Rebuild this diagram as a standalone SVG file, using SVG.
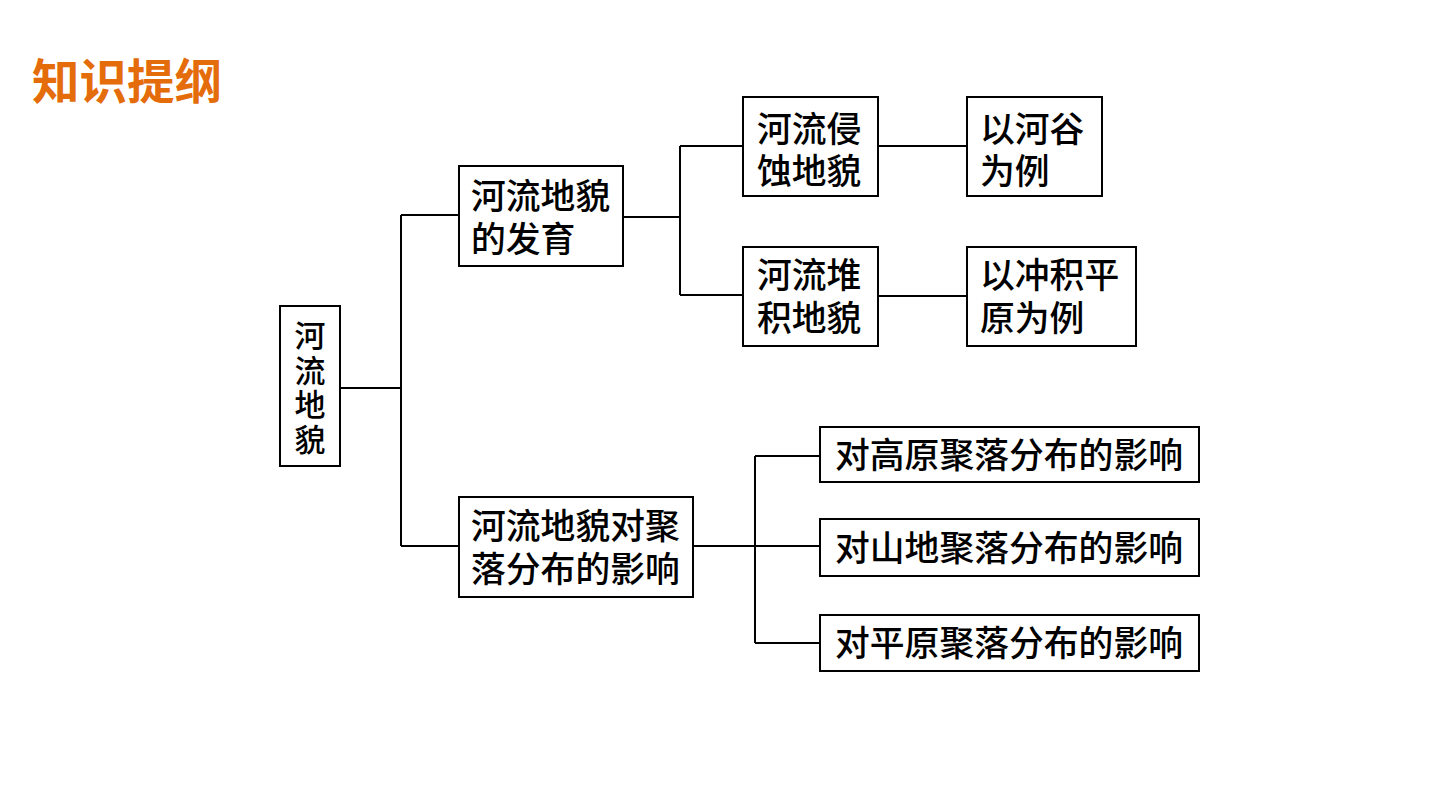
<svg xmlns="http://www.w3.org/2000/svg" width="1440" height="810" viewBox="0 0 1440 810">
<style>
.box{fill:#fff;stroke:#000;stroke-width:2}
.t{font-family:"Noto Sans CJK SC","Noto Sans",sans-serif;font-size:34.8px;font-weight:500;fill:#000}
.v{font-family:"Noto Sans CJK SC","Noto Sans",sans-serif;font-size:31px;font-weight:500;fill:#000}
.c{fill:none;stroke:#000;stroke-width:2}
.title{font-family:"Noto Sans CJK SC","Noto Sans",sans-serif;font-size:47.5px;font-weight:700;fill:#E46C0A}
</style>
<rect width="1440" height="810" fill="#fff"/>
<text class="title" x="32" y="99">知识提纲</text>
<g id="connectors">
<path class="c" d="M340 388H401M401 215V546M401 215H459M401 546H459"/>
<path class="c" d="M623 217H680M680 146V295M680 146H743M680 295H743"/>
<path class="c" d="M878 146H967M878 296H967"/>
<path class="c" d="M693 546H820M755 456V643M755 456H820M755 643H820"/>
</g>
<g id="root">
<rect class="box" x="280" y="306" width="60" height="160"/>
<text class="v" x="310" y="320" writing-mode="tb" letter-spacing="3.5">河流地貌</text>
</g>
<g id="dev">
<rect class="box" x="459" y="166" width="164" height="100"/>
<text class="t"><tspan x="471" y="209">河流地貌</tspan><tspan x="471" y="252">的发育</tspan></text>
</g>
<g id="erosion">
<rect class="box" x="743" y="97" width="135" height="99"/>
<text class="t"><tspan x="757" y="142">河流侵</tspan><tspan x="757" y="184">蚀地貌</tspan></text>
</g>
<g id="valley">
<rect class="box" x="967" y="97" width="135" height="99"/>
<text class="t"><tspan x="980" y="142">以河谷</tspan><tspan x="980" y="184">为例</tspan></text>
</g>
<g id="deposit">
<rect class="box" x="743" y="247" width="135" height="99"/>
<text class="t"><tspan x="757" y="288">河流堆</tspan><tspan x="757" y="331">积地貌</tspan></text>
</g>
<g id="plain">
<rect class="box" x="967" y="247" width="169" height="99"/>
<text class="t"><tspan x="980" y="288">以冲积平</tspan><tspan x="980" y="331">原为例</tspan></text>
</g>
<g id="settle">
<rect class="box" x="459" y="497" width="234" height="100"/>
<text class="t"><tspan x="471" y="539">河流地貌对聚</tspan><tspan x="471" y="582">落分布的影响</tspan></text>
</g>
<g id="plateau">
<rect class="box" x="820" y="427" width="379" height="55"/>
<text class="t" x="835" y="468">对高原聚落分布的影响</text>
</g>
<g id="mountain">
<rect class="box" x="820" y="519" width="379" height="57"/>
<text class="t" x="835" y="561">对山地聚落分布的影响</text>
</g>
<g id="plainsettle">
<rect class="box" x="820" y="615" width="379" height="56"/>
<text class="t" x="835" y="656">对平原聚落分布的影响</text>
</g>
</svg>
